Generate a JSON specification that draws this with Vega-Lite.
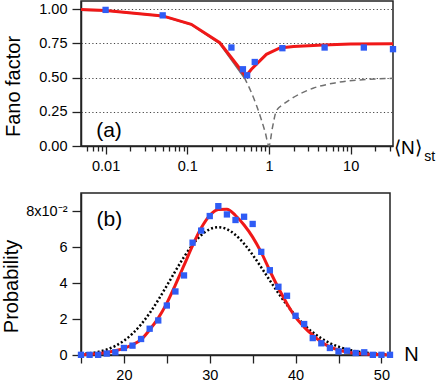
{
  "$schema": "https://vega.github.io/schema/vega-lite/v6.json",
  "padding": {"left": 0, "top": 0, "right": 46, "bottom": 0},
  "bounds": "flush",
  "spacing": 47,
  "config": {
    "font": "Liberation Sans",
    "view": {"stroke": "#222222", "strokeWidth": 1.5},
    "axis": {
      "labelFontSize": 14.5,
      "labelColor": "#000000",
      "titleFontSize": 20,
      "titleFontWeight": "normal",
      "titleColor": "#000000",
      "domainColor": "#222222",
      "domainWidth": 1.5,
      "tickColor": "#222222",
      "tickWidth": 1.3,
      "labelOverlap": false,
      "labelFlush": false
    }
  },
  "datasets": {
    "fano_lines": [
      {"x": 0.005, "F": 0.997, "s": "model"},
      {"x": 0.01, "F": 0.99, "s": "model"},
      {"x": 0.05, "F": 0.951, "s": "model"},
      {"x": 0.112, "F": 0.89, "s": "model"},
      {"x": 0.25, "F": 0.755, "s": "model"},
      {"x": 0.52, "F": 0.51, "s": "model"},
      {"x": 0.61, "F": 0.561, "s": "model"},
      {"x": 0.93, "F": 0.67, "s": "model"},
      {"x": 1.36, "F": 0.717, "s": "model"},
      {"x": 2.0, "F": 0.728, "s": "model"},
      {"x": 4.6, "F": 0.738, "s": "model"},
      {"x": 10, "F": 0.745, "s": "model"},
      {"x": 33, "F": 0.748, "s": "model"},
      {"x": 0.005, "F": 0.995, "s": "classical"},
      {"x": 0.01, "F": 0.99, "s": "classical"},
      {"x": 0.05, "F": 0.95, "s": "classical"},
      {"x": 0.112, "F": 0.888, "s": "classical"},
      {"x": 0.25, "F": 0.75, "s": "classical"},
      {"x": 0.5, "F": 0.5, "s": "classical"},
      {"x": 0.5, "F": 0.5, "s": "classical_dash"},
      {"x": 0.6, "F": 0.4, "s": "classical_dash"},
      {"x": 0.7, "F": 0.3, "s": "classical_dash"},
      {"x": 0.8, "F": 0.2, "s": "classical_dash"},
      {"x": 0.9, "F": 0.1, "s": "classical_dash"},
      {"x": 1.0, "F": 0.0, "s": "classical_dash"},
      {"x": 1.1, "F": 0.13, "s": "classical_dash"},
      {"x": 1.23, "F": 0.256, "s": "classical_dash"},
      {"x": 1.5, "F": 0.305, "s": "classical_dash"},
      {"x": 1.97, "F": 0.353, "s": "classical_dash"},
      {"x": 3.46, "F": 0.422, "s": "classical_dash"},
      {"x": 6.67, "F": 0.463, "s": "classical_dash"},
      {"x": 17, "F": 0.488, "s": "classical_dash"},
      {"x": 33, "F": 0.495, "s": "classical_dash"}
    ],
    "fano_points": [
      {"x": 0.01, "F": 0.995},
      {"x": 0.05, "F": 0.955},
      {"x": 0.347, "F": 0.72},
      {"x": 0.48, "F": 0.561},
      {"x": 0.54, "F": 0.517},
      {"x": 0.67, "F": 0.614},
      {"x": 1.46, "F": 0.715},
      {"x": 4.8, "F": 0.72},
      {"x": 14.5, "F": 0.72},
      {"x": 33, "F": 0.708}
    ],
    "dist_points": [
      {"N": 15, "P": 0.0001}, {"N": 16, "P": 0.0001}, {"N": 17, "P": 0.0001},
      {"N": 18, "P": 0.0008}, {"N": 19, "P": 0.0015}, {"N": 20, "P": 0.0039},
      {"N": 21, "P": 0.0052}, {"N": 22, "P": 0.0089}, {"N": 23, "P": 0.0146},
      {"N": 24, "P": 0.0192}, {"N": 25, "P": 0.0275}, {"N": 26, "P": 0.0353},
      {"N": 27, "P": 0.0442}, {"N": 28, "P": 0.0624}, {"N": 29, "P": 0.0691},
      {"N": 30, "P": 0.0772}, {"N": 31, "P": 0.0827}, {"N": 32, "P": 0.0781},
      {"N": 33, "P": 0.075}, {"N": 34, "P": 0.0768}, {"N": 35, "P": 0.0728},
      {"N": 36, "P": 0.0573}, {"N": 37, "P": 0.0471}, {"N": 38, "P": 0.0379},
      {"N": 39, "P": 0.0329}, {"N": 40, "P": 0.0218}, {"N": 41, "P": 0.0172},
      {"N": 42, "P": 0.0094}, {"N": 43, "P": 0.0065}, {"N": 44, "P": 0.0039},
      {"N": 45, "P": 0.002}, {"N": 46, "P": 0.0024}, {"N": 47, "P": 0.0011},
      {"N": 48, "P": 0.0015}, {"N": 49, "P": 0.0001}, {"N": 50, "P": 0.0001},
      {"N": 51, "P": 0.0001}
    ],
    "dist_lines": [
      {"N": 15, "P": 0.0002, "s": "model"}, {"N": 16, "P": 0.0004, "s": "model"},
      {"N": 17, "P": 0.0008, "s": "model"}, {"N": 18, "P": 0.0014, "s": "model"},
      {"N": 19, "P": 0.0024, "s": "model"}, {"N": 20, "P": 0.0037, "s": "model"},
      {"N": 21, "P": 0.0057, "s": "model"}, {"N": 22, "P": 0.0085, "s": "model"},
      {"N": 23, "P": 0.014, "s": "model"}, {"N": 24, "P": 0.0205, "s": "model"},
      {"N": 25, "P": 0.0288, "s": "model"}, {"N": 26, "P": 0.039, "s": "model"},
      {"N": 27, "P": 0.0498, "s": "model"}, {"N": 28, "P": 0.0608, "s": "model"},
      {"N": 29, "P": 0.0705, "s": "model"}, {"N": 30, "P": 0.0775, "s": "model"},
      {"N": 31, "P": 0.0808, "s": "model"}, {"N": 32, "P": 0.081, "s": "model"},
      {"N": 33, "P": 0.0775, "s": "model"}, {"N": 34, "P": 0.0722, "s": "model"},
      {"N": 35, "P": 0.0655, "s": "model"}, {"N": 36, "P": 0.057, "s": "model"},
      {"N": 37, "P": 0.0468, "s": "model"}, {"N": 38, "P": 0.0372, "s": "model"},
      {"N": 39, "P": 0.0285, "s": "model"}, {"N": 40, "P": 0.021, "s": "model"},
      {"N": 41, "P": 0.0155, "s": "model"}, {"N": 42, "P": 0.011, "s": "model"},
      {"N": 43, "P": 0.0072, "s": "model"}, {"N": 44, "P": 0.0045, "s": "model"},
      {"N": 45, "P": 0.0028, "s": "model"}, {"N": 46, "P": 0.0017, "s": "model"},
      {"N": 47, "P": 0.001, "s": "model"}, {"N": 48, "P": 0.0006, "s": "model"},
      {"N": 49, "P": 0.0003, "s": "model"}, {"N": 50, "P": 0.0002, "s": "model"},
      {"N": 51, "P": 0.0001, "s": "model"},
      {"N": 15, "P": 0.00048, "s": "poisson"}, {"N": 16, "P": 0.00094, "s": "poisson"},
      {"N": 17, "P": 0.00173, "s": "poisson"}, {"N": 18, "P": 0.00303, "s": "poisson"},
      {"N": 19, "P": 0.00503, "s": "poisson"}, {"N": 20, "P": 0.00792, "s": "poisson"},
      {"N": 21, "P": 0.01188, "s": "poisson"}, {"N": 22, "P": 0.01701, "s": "poisson"},
      {"N": 23, "P": 0.02329, "s": "poisson"}, {"N": 24, "P": 0.03057, "s": "poisson"},
      {"N": 25, "P": 0.03852, "s": "poisson"}, {"N": 26, "P": 0.04667, "s": "poisson"},
      {"N": 27, "P": 0.05445, "s": "poisson"}, {"N": 28, "P": 0.06126, "s": "poisson"},
      {"N": 29, "P": 0.06654, "s": "poisson"}, {"N": 30, "P": 0.06987, "s": "poisson"},
      {"N": 31, "P": 0.071, "s": "poisson"}, {"N": 32, "P": 0.06989, "s": "poisson"},
      {"N": 33, "P": 0.06671, "s": "poisson"}, {"N": 34, "P": 0.06181, "s": "poisson"},
      {"N": 35, "P": 0.05563, "s": "poisson"}, {"N": 36, "P": 0.04868, "s": "poisson"},
      {"N": 37, "P": 0.04144, "s": "poisson"}, {"N": 38, "P": 0.03435, "s": "poisson"},
      {"N": 39, "P": 0.02775, "s": "poisson"}, {"N": 40, "P": 0.02185, "s": "poisson"},
      {"N": 41, "P": 0.01679, "s": "poisson"}, {"N": 42, "P": 0.01259, "s": "poisson"},
      {"N": 43, "P": 0.00922, "s": "poisson"}, {"N": 44, "P": 0.0066, "s": "poisson"},
      {"N": 45, "P": 0.00462, "s": "poisson"}, {"N": 46, "P": 0.00316, "s": "poisson"},
      {"N": 47, "P": 0.00212, "s": "poisson"}, {"N": 48, "P": 0.00139, "s": "poisson"},
      {"N": 49, "P": 0.00089, "s": "poisson"}, {"N": 50, "P": 0.00056, "s": "poisson"},
      {"N": 51, "P": 0.00035, "s": "poisson"}
    ]
  },
  "vconcat": [
    {
      "width": 312,
      "height": 145,
      "encoding": {
        "x": {
          "field": "x", "type": "quantitative",
          "scale": {"type": "log", "domain": [0.005, 33], "nice": false},
          "axis": {
            "title": null,
            "values": [0.006, 0.007, 0.008, 0.009, 0.01, 0.02, 0.03, 0.04, 0.05, 0.06, 0.07, 0.08, 0.09, 0.1, 0.2, 0.3, 0.4, 0.5, 0.6, 0.7, 0.8, 0.9, 1, 2, 3, 4, 5, 6, 7, 8, 9, 10, 20, 30],
            "labelExpr": "datum.value == 0.01 ? '0.01' : datum.value == 0.1 ? '0.1' : datum.value == 1 ? '1' : datum.value == 10 ? '10' : ''",
            "tickSize": {"condition": {"test": "datum.value == 0.01 || datum.value == 0.1 || datum.value == 1 || datum.value == 10", "value": 8}, "value": 5},
            "labelPadding": 5,
            "grid": false
          }
        },
        "y": {
          "field": "F", "type": "quantitative",
          "scale": {"domain": [0, 1.06], "nice": false},
          "axis": {
            "title": "Fano factor",
            "values": [0, 0.25, 0.5, 0.75, 1],
            "format": ".2f",
            "tickSize": 9,
            "labelPadding": 5,
            "titlePadding": 15,
            "titleY": 85,
            "grid": true,
            "gridDash": [1.2, 2.4],
            "gridColor": "#444444",
            "gridWidth": 1
          }
        }
      },
      "layer": [
        {
          "data": {"name": "fano_lines"},
          "transform": [{"filter": "datum.s == 'classical'"}],
          "mark": {"type": "line", "color": "#707070", "strokeWidth": 2}
        },
        {
          "data": {"name": "fano_lines"},
          "transform": [{"filter": "datum.s == 'classical_dash'"}],
          "mark": {"type": "line", "color": "#707070", "strokeWidth": 1.5, "strokeDash": [6, 4], "interpolate": "monotone"}
        },
        {
          "data": {"name": "fano_lines"},
          "transform": [{"filter": "datum.s == 'model'"}],
          "mark": {"type": "line", "color": "#f01818", "strokeWidth": 3}
        },
        {
          "data": {"name": "fano_points"},
          "mark": {"type": "square", "color": "#2f5cf5", "size": 40, "opacity": 1}
        },
        {
          "data": {"values": [{"t": "(a)", "x": 0.011, "F": 0.11}]},
          "mark": {"type": "text", "fontSize": 21, "align": "center", "baseline": "middle", "color": "#000000"},
          "encoding": {"text": {"field": "t"}}
        },
        {
          "data": {"values": [{"t": "⟨N⟩", "x": 50, "F": 0}]},
          "mark": {"type": "text", "fontSize": 19, "align": "center", "baseline": "middle", "dy": 2, "color": "#000000"},
          "encoding": {"text": {"field": "t"}}
        },
        {
          "data": {"values": [{"t": "st", "x": 93, "F": 0}]},
          "mark": {"type": "text", "fontSize": 14, "align": "center", "baseline": "middle", "dy": 11, "color": "#000000"},
          "encoding": {"text": {"field": "t"}}
        }
      ]
    },
    {
      "width": 309,
      "height": 162,
      "encoding": {
        "x": {
          "field": "N", "type": "quantitative",
          "scale": {"domain": [15, 51], "nice": false, "zero": false},
          "axis": {
            "title": null,
            "values": [15, 20, 25, 30, 35, 40, 45, 50],
            "labelExpr": "datum.value == 20 || datum.value == 30 || datum.value == 40 || datum.value == 50 ? datum.label : ''",
            "tickSize": 8,
            "labelPadding": 5,
            "grid": false
          }
        },
        "y": {
          "field": "P", "type": "quantitative",
          "scale": {"domain": [0, 0.09], "nice": false},
          "axis": {
            "title": "Probability",
            "values": [0, 0.02, 0.04, 0.06, 0.08],
            "labelExpr": "datum.value > 0.07 ? '8x10⁻²' : format(datum.value * 100, '.0f')",
            "tickSize": 9,
            "labelPadding": 5,
            "titlePadding": 4,
            "titleY": 93,
            "grid": false
          }
        }
      },
      "layer": [
        {
          "data": {"name": "dist_lines"},
          "transform": [{"filter": "datum.s == 'poisson'"}],
          "mark": {"type": "line", "color": "#000000", "strokeWidth": 2.5, "strokeDash": [2, 2.2], "interpolate": "monotone"}
        },
        {
          "data": {"name": "dist_lines"},
          "transform": [{"filter": "datum.s == 'model'"}],
          "mark": {"type": "line", "color": "#f01818", "strokeWidth": 3, "interpolate": "monotone"}
        },
        {
          "data": {"name": "dist_points"},
          "mark": {"type": "square", "color": "#2f5cf5", "size": 40, "opacity": 1}
        },
        {
          "data": {"values": [{"t": "(b)", "N": 18.3, "P": 0.0752}]},
          "mark": {"type": "text", "fontSize": 21, "align": "center", "baseline": "middle", "color": "#000000"},
          "encoding": {"text": {"field": "t"}}
        },
        {
          "data": {"values": [{"t": "N", "N": 53.5, "P": 0}]},
          "mark": {"type": "text", "fontSize": 20, "align": "center", "baseline": "middle", "color": "#000000"},
          "encoding": {"text": {"field": "t"}}
        }
      ]
    }
  ]
}
